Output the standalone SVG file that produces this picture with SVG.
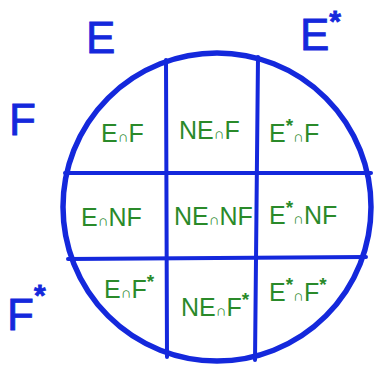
<svg xmlns="http://www.w3.org/2000/svg" width="377" height="369" viewBox="0 0 377 369">
<style>
.big{font-family:"Liberation Sans",Arial,sans-serif;font-size:44px;fill:#1428dc;stroke:#1428dc;stroke-width:0.8}
.lab{font-family:"Liberation Sans",Arial,sans-serif;font-size:25px;fill:#2a8a2a}
.cap{font-size:15px}
.st{font-size:30px;font-weight:bold}
.gs{font-size:19px;font-weight:bold}
.ln{stroke:#1428dc;stroke-width:4;fill:none;stroke-linecap:round}
</style>
<rect width="377" height="369" fill="#fff"/>
<g id="connectors">
<circle cx="217" cy="207" r="154" fill="none" stroke="#1428dc" stroke-width="5.5"/>
<line class="ln" x1="166" y1="60" x2="167" y2="357"/>
<line class="ln" x1="258" y1="57" x2="255" y2="360"/>
<line class="ln" x1="65" y1="173" x2="371" y2="173"/>
<line class="ln" x1="68" y1="259" x2="366" y2="257"/>
</g>
<g id="E"><text class="big" x="86" y="53">E</text></g>
<g id="Estar"><text class="big" x="300" y="50">E<tspan class="st" dy="-19">*</tspan></text></g>
<g id="F"><text class="big" x="9" y="135">F</text></g>
<g id="Fstar"><text class="big" x="7" y="330">F<tspan class="st" dy="-25">*</tspan></text></g>
<g id="EnF"><text class="lab" x="101" y="142">E<tspan class="cap">∩</tspan>F</text></g>
<g id="NEnF"><text class="lab" x="179" y="139">NE<tspan class="cap">∩</tspan>F</text></g>
<g id="EsnF"><text class="lab" x="269" y="142">E<tspan class="gs" dy="-10">*</tspan><tspan class="cap" dy="10">∩</tspan>F</text></g>
<g id="EnNF"><text class="lab" x="81" y="226">E<tspan class="cap">∩</tspan>NF</text></g>
<g id="NEnNF"><text class="lab" x="174" y="225">NE<tspan class="cap">∩</tspan>NF</text></g>
<g id="EsnNF"><text class="lab" x="269" y="224">E<tspan class="gs" dy="-10">*</tspan><tspan class="cap" dy="10">∩</tspan>NF</text></g>
<g id="EnFs"><text class="lab" x="104" y="298">E<tspan class="cap">∩</tspan>F<tspan class="gs" dy="-10">*</tspan></text></g>
<g id="NEnFs"><text class="lab" x="181" y="316">NE<tspan class="cap">∩</tspan>F<tspan class="gs" dy="-10">*</tspan></text></g>
<g id="EsnFs"><text class="lab" x="269" y="301">E<tspan class="gs" dy="-10">*</tspan><tspan class="cap" dy="10">∩</tspan>F<tspan class="gs" dy="-10">*</tspan></text></g>
</svg>
